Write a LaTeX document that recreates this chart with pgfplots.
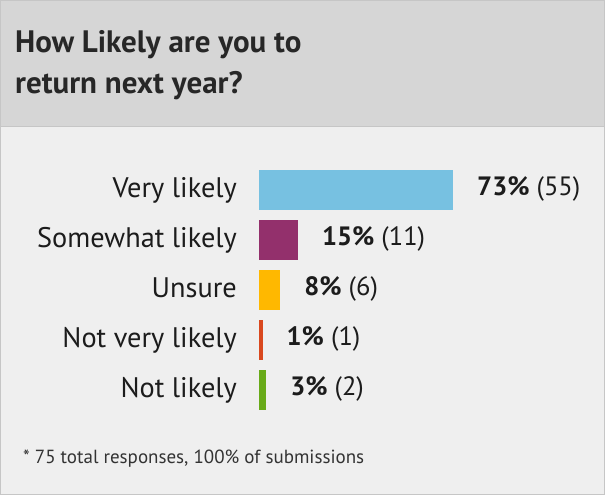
\documentclass[border=0pt]{standalone}
\usepackage{fontspec}
\setmainfont{PT Sans}
\usepackage{pgfplots}
\pgfplotsset{compat=1.18}
\definecolor{hdr}{HTML}{D6D6D6}
\definecolor{bodybg}{HTML}{EFEFEF}
\definecolor{brd}{HTML}{C6C6C6}
\definecolor{txt}{HTML}{1C1C1C}
\definecolor{cblue}{HTML}{77C1E1}
\definecolor{cpurple}{HTML}{93306C}
\definecolor{corange}{HTML}{FFB800}
\definecolor{cred}{HTML}{D9481E}
\definecolor{cgreen}{HTML}{68AA18}
\newcommand\vl[2]{\textbf{#1\%}\ (#2)}
\begin{document}
\begin{tikzpicture}[x=1bp,y=1bp]
\path[use as bounding box] (0,0) rectangle (605,495);
\fill[bodybg] (0,0) rectangle (605,495);
\fill[hdr] (0,368) rectangle (605,495);
\draw[brd, line width=1bp] (0,368) -- (605,368);
\draw[brd, line width=1bp] (0.5,0.5) rectangle (604.5,494.5);
\node[anchor=base west, inner sep=0pt, text=txt!95!white, font=\fontsize{31bp}{38bp}\selectfont\bfseries] at (15,442) {How Likely are you to};
\node[anchor=base west, inner sep=0pt, text=txt!95!white, font=\fontsize{31bp}{38bp}\selectfont\bfseries] at (15,401) {return next year?};
\node[anchor=base west, inner sep=0pt, text=txt!90, font=\fontsize{19bp}{23bp}\selectfont] at (23,31) {* 75 total responses, 100\% of submissions};
\begin{axis}[
  at={(259bp,80bp)}, anchor=south west,
  scale only axis, width=264.6bp, height=250bp,
  xmin=0, xmax=100, ymin=-0.5, ymax=4.5, y dir=reverse,
  xbar, bar width=40bp, bar shift=0pt,
  axis line style={draw=none}, tick style={draw=none},
  major tick length=0pt,
  xtick=\empty, ytick={0,1,2,3,4},
  yticklabels={Very likely, Somewhat likely, Unsure, Not very likely, Not likely},
  yticklabel style={anchor=base east, inner sep=0pt, xshift=-22bp, yshift=-7.7bp,
    text=txt, font=\fontsize{28.3bp}{33bp}\selectfont},
  clip=false,
  every node near coord/.append style={anchor=base west, inner sep=0pt,
    xshift=24bp, yshift=-5.7bp, text=txt, font=\fontsize{26.5bp}{31bp}\selectfont},
]
\addplot[fill=cblue, draw=none, nodes near coords={\vl{73}{55}}] coordinates {(73.33,0)};
\addplot[fill=cpurple, draw=none, nodes near coords={\vl{15}{11}}] coordinates {(14.67,1)};
\addplot[fill=corange, draw=none, nodes near coords={\vl{8}{6}}] coordinates {(8.00,2)};
\addplot[fill=cred, draw=none, nodes near coords={\vl{1}{1}}] coordinates {(1.33,3)};
\addplot[fill=cgreen, draw=none, nodes near coords={\vl{3}{2}}] coordinates {(2.67,4)};
\end{axis}
\end{tikzpicture}
\end{document}
